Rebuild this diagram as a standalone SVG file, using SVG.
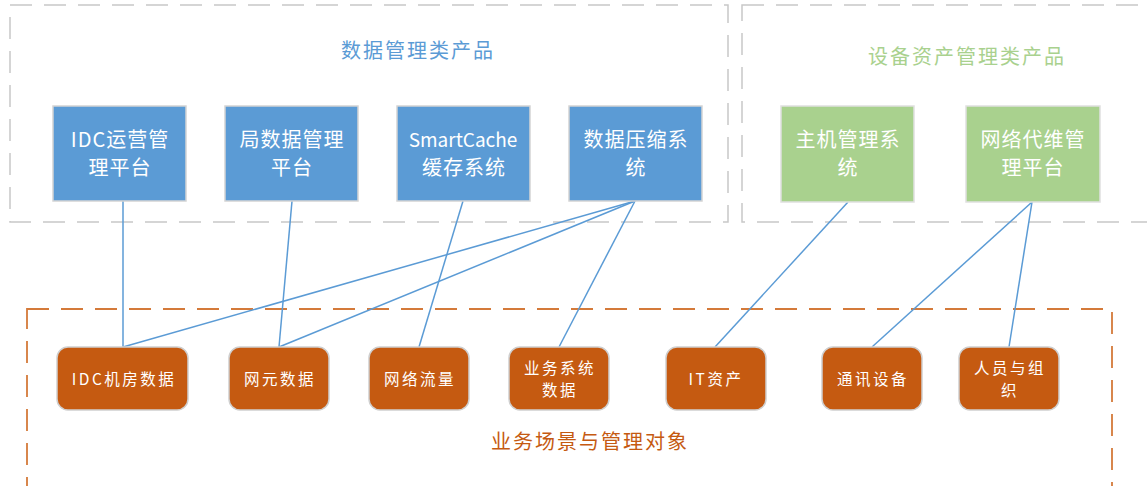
<svg xmlns="http://www.w3.org/2000/svg" width="1147" height="486" viewBox="0 0 1147 486">
<style>
text{font-family:"Noto Sans CJK SC","Microsoft YaHei",sans-serif;text-anchor:middle}
.grp{fill:none;stroke:#C8C8C8;stroke-width:1.5;stroke-dasharray:22 12}
.grpo{fill:none;stroke:#D47A3A;stroke-width:1.8;stroke-dasharray:22 12}
.blue rect{fill:#5B9BD5;stroke:#D4D4D4;stroke-width:1.5}
.green rect{fill:#A9D18E;stroke:#E0E0E0;stroke-width:1.5}
.bt{fill:#fff;font-size:20px;letter-spacing:1px}
.bt.lat{font-size:19px;letter-spacing:0}
.org rect{fill:#C55A11;stroke:#CFCFCF;stroke-width:1.5}
.ot{fill:#fff;font-size:15.5px;letter-spacing:2.5px}
.title{font-size:20px;letter-spacing:2px}
#conn line{stroke:#5B9BD5;stroke-width:1.5}
</style>
<rect width="1147" height="486" fill="#fff"/>
<g id="grp-data">
<rect class="grp" x="10" y="5" width="718" height="217"/>
<text class="title" x="418" y="58" fill="#5B9BD5">数据管理类产品</text>
</g>
<g id="grp-device">
<rect class="grp" x="742" y="5" width="420" height="217"/>
<text class="title" x="967" y="64" fill="#A9D18E">设备资产管理类产品</text>
</g>
<g id="grp-biz">
<rect class="grpo" x="27" y="309" width="1085" height="200"/>
<text class="title" x="590" y="449" fill="#C55A11">业务场景与管理对象</text>
</g>
<g id="conn">
<line x1="123" y1="201" x2="123" y2="347"/>
<line x1="292" y1="201" x2="279" y2="347"/>
<line x1="463" y1="201" x2="419" y2="347"/>
<line x1="635" y1="201" x2="123" y2="347"/>
<line x1="635" y1="201" x2="279" y2="347"/>
<line x1="635" y1="201" x2="559" y2="347"/>
<line x1="848" y1="202" x2="715" y2="347"/>
<line x1="1032" y1="202" x2="872" y2="347"/>
<line x1="1032" y1="202" x2="1009" y2="347"/>
</g>
<g id="n-idc" class="blue"><rect x="53" y="106" width="133" height="95"/><text class="bt" x="120" y="147">IDC运营管</text><text class="bt" x="120" y="175">理平台</text></g>
<g id="n-ju" class="blue"><rect x="225" y="106" width="133" height="95"/><text class="bt" x="292" y="147">局数据管理</text><text class="bt" x="292" y="175">平台</text></g>
<g id="n-sc" class="blue"><rect x="397" y="106" width="133" height="95"/><text class="bt lat" x="463" y="147">SmartCache</text><text class="bt" x="464" y="175">缓存系统</text></g>
<g id="n-ys" class="blue"><rect x="569" y="106" width="133" height="95"/><text class="bt" x="636" y="147">数据压缩系</text><text class="bt" x="636" y="175">统</text></g>
<g id="n-zj" class="green"><rect x="781" y="106" width="133" height="96"/><text class="bt" x="848" y="147">主机管理系</text><text class="bt" x="848" y="175">统</text></g>
<g id="n-wl" class="green"><rect x="966" y="106" width="134" height="96"/><text class="bt" x="1033" y="147">网络代维管</text><text class="bt" x="1033" y="175">理平台</text></g>
<g id="o-idc" class="org"><rect x="57" y="347" width="131" height="63" rx="11"/><text class="ot" x="124" y="385">IDC机房数据</text></g>
<g id="o-wy" class="org"><rect x="229" y="347" width="100" height="63" rx="11"/><text class="ot" x="280" y="385">网元数据</text></g>
<g id="o-ll" class="org"><rect x="369" y="347" width="100" height="63" rx="11"/><text class="ot" x="420" y="385">网络流量</text></g>
<g id="o-yw" class="org"><rect x="509" y="347" width="100" height="63" rx="11"/><text class="ot" x="560" y="374">业务系统</text><text class="ot" x="560" y="396">数据</text></g>
<g id="o-it" class="org"><rect x="666" y="347" width="100" height="63" rx="11"/><text class="ot" x="716" y="385">IT资产</text></g>
<g id="o-tx" class="org"><rect x="822" y="347" width="100" height="63" rx="11"/><text class="ot" x="873" y="385">通讯设备</text></g>
<g id="o-ry" class="org"><rect x="959" y="347" width="100" height="63" rx="11"/><text class="ot" x="1010" y="374">人员与组</text><text class="ot" x="1010" y="396">织</text></g>
</svg>
